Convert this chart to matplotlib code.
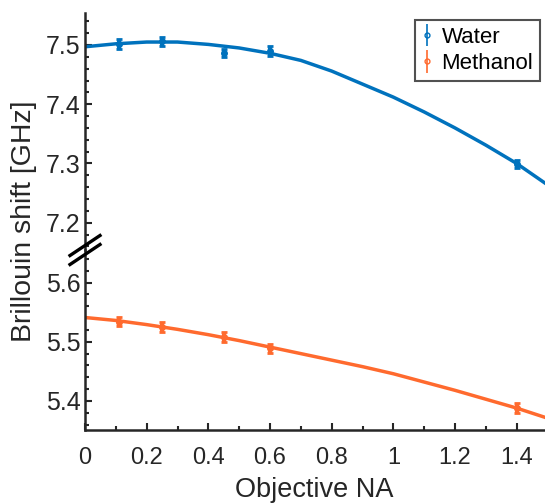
import matplotlib
matplotlib.use("Agg")
import matplotlib.pyplot as plt
from matplotlib.ticker import MultipleLocator, FormatStrFormatter
from matplotlib.lines import Line2D
from matplotlib.legend_handler import HandlerErrorbar

plt.rcParams['font.family'] = ['Liberation Sans', 'DejaVu Sans']

# measured data
na_pts = [0.11, 0.25, 0.45, 0.60, 1.40]
water_pts = [7.502, 7.506, 7.487, 7.490, 7.299]
water_err = [0.008, 0.008, 0.007, 0.008, 0.007]
meth_pts = [5.534, 5.525, 5.508, 5.489, 5.388]
meth_err = [0.008, 0.008, 0.008, 0.008, 0.008]

# fitted curves
na_fit = [0.0, 0.1, 0.2, 0.3, 0.4, 0.5, 0.6, 0.7, 0.8, 0.9, 1.0, 1.1, 1.2, 1.3, 1.4, 1.5]
water_fit = [7.497, 7.502, 7.505, 7.505, 7.501, 7.495, 7.486, 7.474, 7.456, 7.434,
             7.412, 7.387, 7.360, 7.331, 7.300, 7.264]
meth_fit = [5.541, 5.536, 5.529, 5.521, 5.512, 5.502, 5.491, 5.480, 5.469, 5.458,
            5.446, 5.432, 5.418, 5.403, 5.388, 5.371]

xticks = [0, 0.2, 0.4, 0.6, 0.8, 1.0, 1.2, 1.4]
xticklabels = ['0', '0.2', '0.4', '0.6', '0.8', '1', '1.2', '1.4']

blue = '#0072BD'
orange = '#FF6A2E'
dark = '#262626'

W, H = 545, 504
fig = plt.figure(figsize=(W / 100, H / 100), dpi=100)

left = 85 / W
width = (547.5 - 85) / W
top_ax = fig.add_axes([left, 1 - 250 / H, width, (250 - 13) / H])
bot_ax = fig.add_axes([left, 1 - 430 / H, width, (430 - 250) / H])

for ax in (top_ax, bot_ax):
    ax.set_xlim(0, 1.5)
    ax.spines['right'].set_visible(False)
    ax.spines['top'].set_visible(False)
    ax.spines['left'].set_linewidth(1.8)
    ax.spines['left'].set_color(dark)
    ax.patch.set_alpha(0)
    ax.yaxis.set_major_locator(MultipleLocator(0.1))
    ax.yaxis.set_minor_locator(MultipleLocator(0.02))
    ax.tick_params(axis='both', which='major', direction='in', length=5, width=1.5,
                   colors=dark, labelsize=17, pad=4, labelcolor=dark)
    ax.tick_params(axis='y', which='major', labelsize=18, pad=3)
    ax.tick_params(axis='both', which='minor', direction='in', length=3, width=1.5,
                   colors=dark)
    ax.yaxis.set_major_formatter(FormatStrFormatter('%.1f'))

top_ax.spines['bottom'].set_visible(False)
top_ax.tick_params(axis='x', which='both', bottom=False, labelbottom=False)
top_ax.set_ylim(7.154, 7.554)

bot_ax.set_ylim(5.351, 5.655)
bot_ax.spines['bottom'].set_linewidth(1.8)
bot_ax.spines['bottom'].set_color(dark)
bot_ax.set_xticks(xticks)
bot_ax.set_xticklabels(xticklabels)
bot_ax.xaxis.set_minor_locator(MultipleLocator(0.1))
bot_ax.tick_params(axis='x', which='major', pad=12)

# curves
top_ax.plot(na_fit, water_fit, color=blue, lw=2.5)
bot_ax.plot(na_fit, meth_fit, color=orange, lw=2.5)

# data points
top_ax.errorbar(na_pts, water_pts, yerr=water_err, fmt='o', color=blue, ms=4,
                elinewidth=3, capsize=2.5, capthick=2)
bot_ax.errorbar(na_pts, meth_pts, yerr=meth_err, fmt='o', color=orange, ms=4,
                elinewidth=3, capsize=2.5, capthick=2)

# legend
h1 = top_ax.errorbar([], [], yerr=[], fmt='o', color=blue, ms=3.5, mfc='none',
                     elinewidth=1.2, capsize=2, label='Water')
h2 = top_ax.errorbar([], [], yerr=[], fmt='o', color=orange, ms=3.5, mfc='none',
                     elinewidth=1.2, capsize=2, label='Methanol')
leg = top_ax.legend(handles=[h1, h2], loc='upper right',
                    bbox_to_anchor=(540 / W, 1 - 20 / H), bbox_transform=fig.transFigure,
                    borderaxespad=0, fontsize=16, frameon=True, fancybox=False,
                    handlelength=0.45, handletextpad=0.45, borderpad=0.3,
                    labelspacing=0.25, edgecolor=dark,
                    handler_map={type(h1): HandlerErrorbar(xerr_size=0.3, yerr_size=0.5)})
leg.get_frame().set_linewidth(1.5)

# axis break marks
for dy in (-4.5, 4.5):
    yc = 1 - (250 + dy) / H
    xc = 85 / W
    fig.add_artist(Line2D([xc - 15 / W, xc + 15 / W], [yc - 10 / H, yc + 10 / H],
                          transform=fig.transFigure, color='black', lw=2.4))

fig.text(314 / W, 1 - 490 / H, 'Objective NA', ha='center', va='center', fontsize=19.5,
         color=dark)
fig.text(24 / W, 1 - 221 / H, 'Brillouin shift [GHz]', ha='center', va='center',
         rotation=90, fontsize=20.5, color=dark)

fig.savefig('out.png', dpi=100)
